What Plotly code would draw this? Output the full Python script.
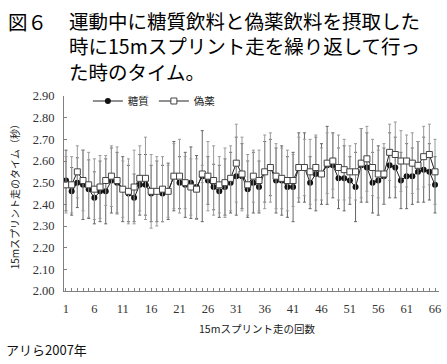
import plotly.graph_objects as go

runs = list(range(1, 67))

sugar = [2.51, 2.46, 2.50, 2.49, 2.47, 2.43, 2.46, 2.46, 2.51, 2.50,
         2.47, 2.45, 2.43, 2.49, 2.49, 2.45, 2.46, 2.45, 2.46, 2.53,
         2.50, 2.49, 2.50, 2.48, 2.53, 2.51, 2.48, 2.46, 2.48, 2.50,
         2.53, 2.53, 2.47, 2.50, 2.48, 2.55, 2.57, 2.51, 2.51, 2.48,
         2.48, 2.57, 2.57, 2.50, 2.54, 2.54, 2.58, 2.58, 2.52, 2.52,
         2.51, 2.48, 2.58, 2.57, 2.50, 2.51, 2.53, 2.58, 2.57, 2.51,
         2.53, 2.53, 2.55, 2.56, 2.55, 2.49]

placebo = [2.49, 2.49, 2.55, 2.51, 2.49, 2.47, 2.48, 2.51, 2.53, 2.51,
           2.47, 2.46, 2.48, 2.52, 2.52, 2.46, 2.46, 2.47, 2.46, 2.53,
           2.53, 2.50, 2.48, 2.47, 2.54, 2.53, 2.51, 2.49, 2.50, 2.52,
           2.59, 2.54, 2.49, 2.53, 2.51, 2.55, 2.57, 2.53, 2.52, 2.51,
           2.51, 2.57, 2.57, 2.55, 2.57, 2.54, 2.59, 2.60, 2.57, 2.56,
           2.55, 2.55, 2.59, 2.61, 2.57, 2.54, 2.54, 2.64, 2.63, 2.60,
           2.60, 2.59, 2.58, 2.62, 2.63, 2.55]

# visible top / bottom ends of the error bars
bar_top = [2.62, 2.62, 2.67, 2.65, 2.64, 2.61, 2.625, 2.625, 2.67, 2.665,
           2.60, 2.61, 2.65, 2.67, 2.71, 2.63, 2.62, 2.62, 2.58, 2.68,
           2.70, 2.62, 2.61, 2.61, 2.58, 2.69, 2.67, 2.62, 2.66, 2.67,
           2.77, 2.71, 2.63, 2.65, 2.65, 2.72, 2.73, 2.68, 2.66, 2.65,
           2.63, 2.71, 2.70, 2.70, 2.72, 2.66, 2.73, 2.73, 2.72, 2.70,
           2.67, 2.68, 2.75, 2.76, 2.70, 2.65, 2.68, 2.77, 2.78, 2.74,
           2.72, 2.73, 2.69, 2.76, 2.77, 2.70]

bar_bottom = [2.37, 2.35, 2.385, 2.33, 2.335, 2.31, 2.32, 2.31, 2.36, 2.36,
              2.32, 2.32, 2.32, 2.35, 2.35, 2.32, 2.32, 2.32, 2.33, 2.37,
              2.38, 2.34, 2.335, 2.335, 2.32, 2.40, 2.375, 2.34, 2.35, 2.36,
              2.35, 2.38, 2.34, 2.36, 2.36, 2.41, 2.44, 2.36, 2.35, 2.34,
              2.32, 2.41, 2.41, 2.38, 2.37, 2.40, 2.40, 2.43, 2.38, 2.37,
              2.40, 2.32, 2.41, 2.41, 2.36, 2.35, 2.40, 2.43, 2.43, 2.38,
              2.38, 2.40, 2.41, 2.41, 2.42, 2.36]

err_sugar = [round(s - b, 3) for s, b in zip(sugar, bar_bottom)]
err_placebo = [round(t - p, 3) for t, p in zip(bar_top, placebo)]

title_lines = ["運動中に糖質飲料と偽薬飲料を摂取した",
               "時に15mスプリント走を繰り返して行っ",
               "た時のタイム。"]
fig_label = "図６"
x_title = "15mスプリント走の回数"
y_title = "15mスプリント走のタイム（秒）"
source = "アリら2007年"

W, H = 447, 364
L, R, T, B = 64, 6, 96, 73
pw, ph = W - L - R, H - T - B


def px(x):
    return (x - L) / pw


def py(y):
    return (H - B - y) / ph


jp = "Noto Sans CJK JP"
serif = "Liberation Serif"

fig = go.Figure()
fig.add_trace(go.Scatter(
    x=runs, y=sugar, name="糖質", mode="lines+markers",
    line=dict(color="#222222", width=1),
    marker=dict(symbol="circle", size=6, color="#111111"),
    error_y=dict(type="data", array=err_sugar, visible=True,
                 color="#666666", thickness=1, width=1.5),
))
fig.add_trace(go.Scatter(
    x=runs, y=placebo, name="偽薬", mode="lines+markers",
    line=dict(color="#222222", width=1),
    marker=dict(symbol="square", size=6, color="white",
                line=dict(color="#444444", width=1)),
    error_y=dict(type="data", array=err_placebo, visible=True,
                 color="#9a9a9a", thickness=1, width=1.5),
))

annotations = [
    dict(text="<br>".join(title_lines), x=px(67), y=py(46), xref="paper", yref="paper",
         xanchor="left", yanchor="middle", align="left", showarrow=False,
         font=dict(family=jp, size=19.5, color="#000000")),
    dict(text=fig_label, x=px(6), y=py(21), xref="paper", yref="paper",
         xanchor="left", yanchor="middle", showarrow=False,
         font=dict(family=jp, size=19.5, color="#000000")),
    dict(text=x_title, x=px(258), y=py(328), xref="paper", yref="paper",
         xanchor="center", yanchor="middle", showarrow=False,
         font=dict(family=jp, size=10.5, color="#222222")),
    dict(text=y_title, x=px(14), y=py(194), xref="paper", yref="paper",
         xanchor="center", yanchor="middle", showarrow=False, textangle=-90,
         font=dict(family=jp, size=10, color="#222222")),
    dict(text=source, x=px(4), y=py(349), xref="paper", yref="paper",
         xanchor="left", yanchor="middle", showarrow=False,
         font=dict(family=jp, size=13, color="#111111")),
]

fig.update_layout(
    width=W, height=H,
    margin=dict(l=L, r=R, t=T, b=B),
    paper_bgcolor="white", plot_bgcolor="white",
    showlegend=True,
    legend=dict(orientation="h", x=px(88), y=py(101), xanchor="left",
                yanchor="middle", font=dict(family=jp, size=10.5, color="#222222"),
                bgcolor="rgba(0,0,0,0)", itemwidth=30, tracegroupgap=0),
    annotations=annotations,
    xaxis=dict(range=[0.65, 66.7], tick0=1, dtick=5, showgrid=False,
               zeroline=False, showline=True, linecolor="#808080", linewidth=1,
               ticks="inside", ticklen=3, tickcolor="#808080",
               minor=dict(dtick=1, ticks="inside", ticklen=3, tickcolor="#808080"),
               tickfont=dict(family=serif, size=12.5, color="#333333"),
               ticklabelstandoff=6, ticklabeloverflow="allow"),
    yaxis=dict(range=[2.0, 2.9], dtick=0.1, tickformat=".2f", showgrid=False,
               zeroline=False, showline=True, linecolor="#808080", linewidth=1,
               ticks="inside", ticklen=3, tickcolor="#808080",
               tickfont=dict(family=serif, size=12.5, color="#333333"),
               ticklabelstandoff=6),
)

fig.write_html("out.html", config={"displayModeBar": False},
               post_script="document.body.style.margin='0px';document.body.style.overflow='hidden';")
